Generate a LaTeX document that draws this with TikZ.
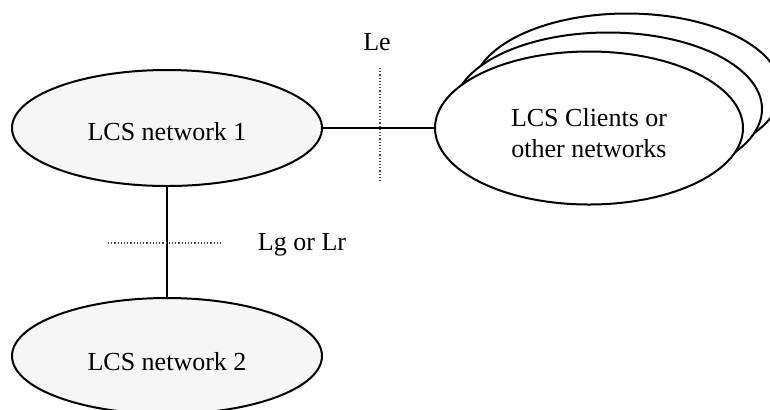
\documentclass[tikz,border=0pt]{standalone}
\usepackage{fontspec}
\setmainfont{Liberation Serif}
\usetikzlibrary{shapes.geometric}

\begin{document}
\begin{tikzpicture}[x=0.5pt, y=-0.5pt,
    network/.style ={ellipse, draw, line width=1pt, fill=gray!7, inner sep=0pt,
      minimum width=155pt, minimum height=58pt, text height=13pt, text depth=0.5pt,
      font=\fontsize{13}{15.5}\selectfont},
    client/.style ={ellipse, draw, line width=1pt, fill=white, inner sep=0pt,
      minimum width=154pt, minimum height=76.5pt, align=center,
      font=\fontsize{13}{15.5}\selectfont},
    interface/.style ={inner sep=0pt, font=\fontsize{13}{15.5}\selectfont},
    refpoint/.style ={densely dotted, gray!60!black, line width=0.6pt}]
   \useasboundingbox (0,0) rectangle (770,409);

   \node[network] (N1)  at (167,128)  {LCS network 1};
   \node[network, text height=15pt] (N2)  at (167,356)  {LCS network 2};
   \node[client]  (C3)  at (627,90)   {};
   \node[client]  (C2)  at (608,109)  {};
   \node[client]  (C1)  at (589,128)  {\rule{0pt}{14.5pt}LCS Clients or\\other networks};

   \node[interface] (Le) at (377,42)  {Le};
   \node[interface] (Lg) at (302,245) {Lg or Lr};
   \coordinate (LeTop)   at (380,68);
   \coordinate (LeBot)   at (380,182);
   \coordinate (LgLeft)  at (108,243);
   \coordinate (LgRight) at (223,243);

   \draw[line width=1pt] (N1) to (C1);
   \draw[line width=1pt] (N1) to (N2);
   \draw[refpoint] (LeTop) to (LeBot);
   \draw[refpoint] (LgLeft) to (LgRight);
 \end{tikzpicture}
\end{document}
